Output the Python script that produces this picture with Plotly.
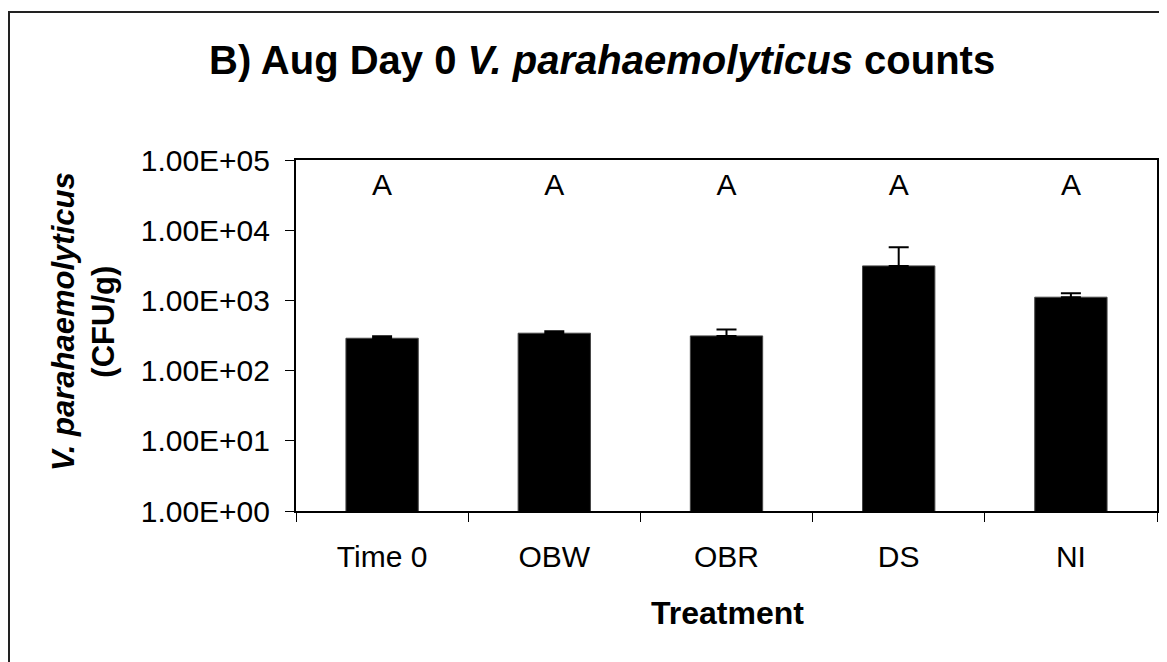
import plotly.graph_objects as go

categories = ["Time 0", "OBW", "OBR", "DS", "NI"]
means = [289, 341, 312, 3100, 1111]
err_up = [20, 23, 72, 2630, 156]
letters = ["A", "A", "A", "A", "A"]
letter_y = [40000] * 5
tick_vals = [1, 10, 100, 1000, 10000, 100000]
tick_text = ["1.00E+00", "1.00E+01", "1.00E+02", "1.00E+03", "1.00E+04", "1.00E+05"]

W, H = 1167, 662
OFF = 8  # page body margin
# target screen positions of plot area
SX0, SX1, SY0, SY1 = 296, 1157, 160, 511
L, T = SX0 - OFF, SY0 - OFF
R = W - (SX1 - OFF)
B = H - (SY1 - OFF)
pw, ph = SX1 - SX0, SY1 - SY0

def px_x(p):
    return (p - SX0) / pw

def px_y(p):
    return (SY1 - p) / ph

FONT = "Arial"

fig = go.Figure()
fig.add_trace(go.Bar(
    x=categories, y=means,
    marker=dict(color="black", line=dict(color="#444", width=1)),
    width=0.42,
    error_y=dict(type="data", symmetric=False, array=err_up,
                 arrayminus=[0] * len(err_up), color="black",
                 thickness=2, width=10),
    showlegend=False,
))
fig.add_trace(go.Scatter(
    x=categories, y=letter_y, mode="text", text=letters,
    textfont=dict(family=FONT, size=30, color="black"),
    showlegend=False, hoverinfo="skip",
))

fig.update_layout(
    width=W, height=H,
    margin=dict(l=L, r=R, t=T, b=B),
    paper_bgcolor="white", plot_bgcolor="white",
    font=dict(family=FONT, color="black"),
    bargap=0.58,
)
fig.update_xaxes(
    type="category", showline=True, linecolor="black", linewidth=2,
    mirror=True, ticks="outside", ticklen=9, tickcolor="black",
    tickson="boundaries", tickfont=dict(family=FONT, size=30),
    ticklabelstandoff=18, showgrid=False,
)
fig.update_yaxes(
    type="log", range=[0, 5], showline=True, linecolor="black", linewidth=2,
    mirror=True, ticks="outside", ticklen=9, tickcolor="black",
    tickvals=tick_vals, ticktext=tick_text,
    tickfont=dict(family=FONT, size=30), ticklabelstandoff=9,
    showgrid=False, zeroline=False,
)
fig.add_annotation(
    text="<b>B) Aug Day 0 <i>V. parahaemolyticus</i> counts</b>",
    xref="paper", yref="paper", x=px_x(602), y=px_y(60),
    xanchor="center", yanchor="middle", showarrow=False,
    font=dict(family=FONT, size=40, color="black"),
)
fig.add_annotation(
    text="<b><i>V. parahaemolyticus</i></b><br><b>(CFU/g)</b>",
    textangle=-90, xref="paper", yref="paper",
    x=px_x(83), y=px_y(322), xanchor="center", yanchor="middle",
    showarrow=False, font=dict(family=FONT, size=31, color="black"),
)
fig.add_annotation(
    text="<b>Treatment</b>", xref="paper", yref="paper",
    x=px_x(727), y=px_y(613), xanchor="center", yanchor="middle",
    showarrow=False, font=dict(family=FONT, size=32, color="black"),
)
fig.add_shape(
    type="rect", xref="paper", yref="paper",
    x0=px_x(9), y0=px_y(12), x1=px_x(W + 40), y1=px_y(H + 40),
    line=dict(color="#222", width=2), fillcolor="rgba(0,0,0,0)", layer="below",
)

fig.write_html("out.html")
